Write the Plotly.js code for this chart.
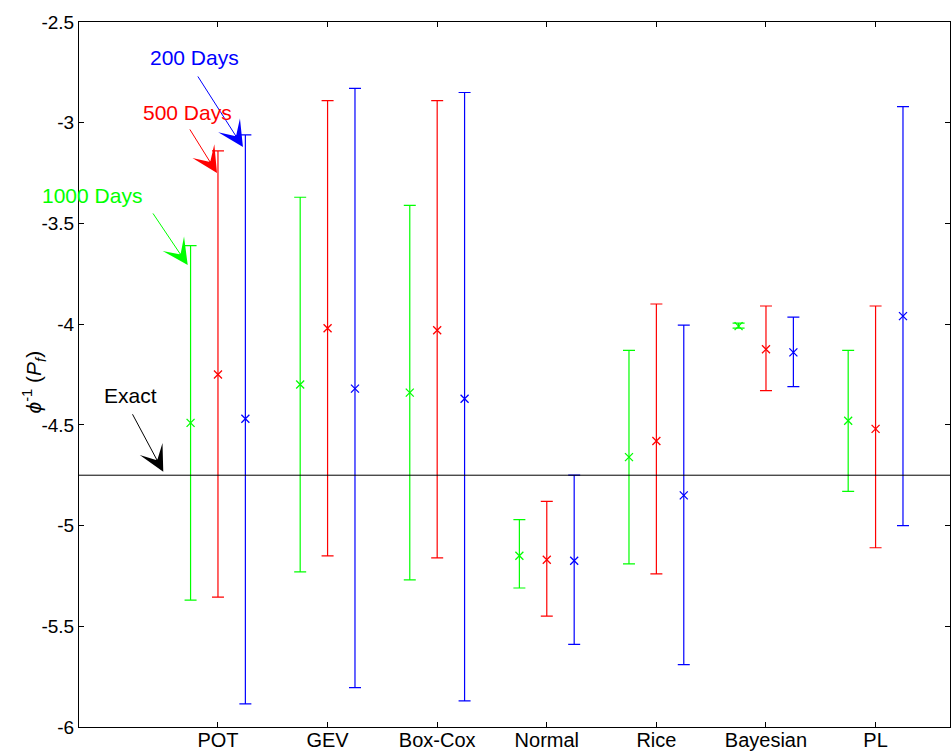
<!DOCTYPE html>
<html>
<head>
<meta charset="utf-8">
<script src="https://cdn.plot.ly/plotly-3.0.1.min.js"></script>
<style>html,body{margin:0;padding:0;background:#fff;}#chart{width:951px;height:754px;}</style>
</head>
<body>
<div id="chart"></div>
<script>
// ---- data ----
const categories = ["POT", "GEV", "Box-Cox", "Normal", "Rice", "Bayesian", "PL"];
const seriesNames = ["1000 Days", "500 Days", "200 Days"];

const mean1000 = [-4.49, -4.30, -4.34, -5.15, -4.66, -4.01, -4.48];
const low1000  = [-5.37, -5.23, -5.27, -5.31, -5.19, -4.02, -4.83];
const high1000 = [-3.61, -3.37, -3.41, -4.97, -4.13, -3.995, -4.13];

const mean500 = [-4.25, -4.02, -4.03, -5.17, -4.58, -4.125, -4.52];
const low500  = [-5.355, -5.15, -5.16, -5.45, -5.24, -4.33, -5.11];
const high500 = [-3.14, -2.89, -2.89, -4.88, -3.90, -3.91, -3.91];

const mean200 = [-4.47, -4.32, -4.37, -5.175, -4.85, -4.14, -3.96];
const low200  = [-5.885, -5.805, -5.87, -5.59, -5.69, -4.31, -5.00];
const high200 = [-3.06, -2.83, -2.85, -4.75, -4.005, -3.965, -2.92];

const exactValue = -4.75;

const yTickVals = [-6, -5.5, -5, -4.5, -4, -3.5, -3, -2.5];
const yTickText = ["-6", "-5.5", "-5", "-4.5", "-4", "-3.5", "-3", "-2.5"];

// ---- build ----
const colors = ["#00ff00", "#ff0000", "#0000ff"];
const offsets = [-0.25, 0, 0.25];
const means = [mean1000, mean500, mean200];
const lows = [low1000, low500, low200];
const highs = [high1000, high500, high200];

const traces = means.map((m, s) => ({
  type: "scatter",
  mode: "markers",
  name: seriesNames[s],
  x: categories.map((c, i) => i + 1 + offsets[s]),
  y: m,
  marker: {symbol: "x-thin-open", size: 8, color: colors[s], line: {color: colors[s], width: 1.3}},
  error_y: {
    type: "data", symmetric: false,
    array: m.map((v, i) => highs[s][i] - v),
    arrayminus: m.map((v, i) => v - lows[s][i]),
    color: colors[s], thickness: 1.2, width: 6
  },
  showlegend: false,
  hoverinfo: "x+y"
}));

const FONT = "Liberation Sans, Arial, Helvetica, sans-serif";

function label(text, x, y, color) {
  return {x: x, y: y, xref: "x", yref: "y", text: text, showarrow: false,
          font: {family: FONT, size: 21, color: color}, xanchor: "center", yanchor: "middle"};
}
function arrow(x, y, ax, ay, color) {
  return {x: x, y: y, ax: ax, ay: ay, xref: "x", yref: "y", axref: "x", ayref: "y",
          text: "", showarrow: true, arrowhead: 3, arrowsize: 4.3, arrowwidth: 1,
          arrowcolor: color, standoff: 0, startstandoff: 0};
}

const layout = {
  width: 951, height: 754,
  margin: {l: 79, r: 1, t: 22, b: 27, pad: 0},
  paper_bgcolor: "#fff", plot_bgcolor: "#fff",
  font: {family: FONT, color: "#000"},
  xaxis: {
    range: [-0.268, 7.679],
    tickvals: categories.map((c, i) => i + 1),
    ticktext: categories,
    ticks: "inside", ticklen: 5, tickcolor: "#000", tickwidth: 1,
    ticklabelstandoff: -5,
    showline: true, linecolor: "#000", linewidth: 1, mirror: "ticks",
    showgrid: false, zeroline: false,
    tickfont: {family: FONT, size: 20, color: "#000"}
  },
  yaxis: {
    range: [-6, -2.5],
    tickvals: yTickVals, ticktext: yTickText,
    ticks: "inside", ticklen: 5, tickcolor: "#000", tickwidth: 1,
    showline: true, linecolor: "#000", linewidth: 1, mirror: "ticks",
    showgrid: false, zeroline: false,
    tickfont: {family: FONT, size: 19, color: "#000"}
  },
  shapes: [{type: "line", xref: "paper", x0: 0, x1: 1, yref: "y", y0: exactValue, y1: exactValue,
            line: {color: "#000", width: 1}}],
  annotations: [
    {xref: "paper", yref: "paper", x: -0.0517, y: 0.49, textangle: -90, showarrow: false,
     xanchor: "center", yanchor: "middle",
     text: "<i>ϕ</i><sup>-1</sup> (<i>P</i><sub><i>f</i></sub>)",
     font: {family: FONT, size: 21, color: "#000"}},
    label("200 Days", 0.790, -2.674, "#0000ff"),
    arrow(1.228, -3.121, 0.808, -2.763, "#0000ff"),
    label("500 Days", 0.722, -2.947, "#ff0000"),
    arrow(0.991, -3.250, 0.735, -3.026, "#ff0000"),
    label("1000 Days", -0.150, -3.359, "#00ff00"),
    arrow(0.724, -3.707, 0.398, -3.443, "#00ff00"),
    label("Exact", 0.206, -4.352, "#000"),
    arrow(0.501, -4.733, 0.213, -4.440, "#000")
  ]
};

Plotly.newPlot("chart", traces, layout, {displayModeBar: false, staticPlot: true});
</script>
</body>
</html>
